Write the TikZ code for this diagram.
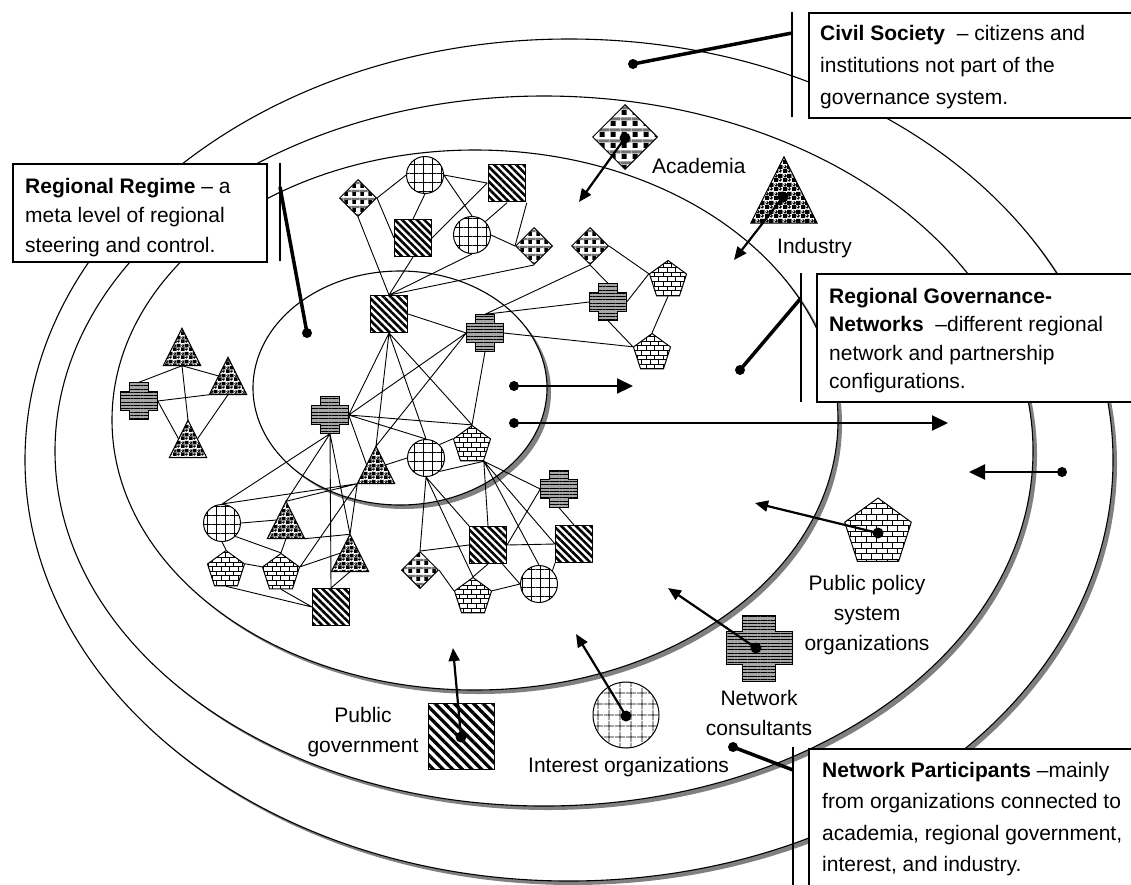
\documentclass[tikz,border=0pt]{standalone}
\usepackage{fontspec}
\setmainfont{Liberation Sans}
\usetikzlibrary{shapes.geometric,patterns,patterns.meta,arrows.meta,calc}

% brick fill: #1 name, #2 brick width, #3 brick height
\newcommand\defbricks[3]{%
  \pgfdeclarepatternformonly{#1}{\pgfpoint{-0.5pt}{-0.5pt}}{\pgfpoint{#2pt+0.5pt}{2*#3pt+0.5pt}}{\pgfpoint{#2pt}{2*#3pt}}{%
    \pgfsetlinewidth{0.7pt}%
    \pgfpathmoveto{\pgfpoint{0pt}{0pt}}\pgfpathlineto{\pgfpoint{#2pt}{0pt}}%
    \pgfpathmoveto{\pgfpoint{0pt}{#3pt}}\pgfpathlineto{\pgfpoint{#2pt}{#3pt}}%
    \pgfpathmoveto{\pgfpoint{0pt}{0pt}}\pgfpathlineto{\pgfpoint{0pt}{#3pt}}%
    \pgfpathmoveto{\pgfpoint{0.5*#2pt}{#3pt}}\pgfpathlineto{\pgfpoint{0.5*#2pt}{2*#3pt}}%
    \pgfusepath{stroke}}}
% plaid fill of the academia symbol
\newcommand\defplaid[2]{%
  \pgfdeclarepatterninherentlycolored{#1}{\pgfpointorigin}{\pgfpoint{#2pt}{#2pt}}{\pgfpoint{#2pt}{#2pt}}{%
    \pgfsetfillcolor{white}\pgfpathrectangle{\pgfpointorigin}{\pgfpoint{#2pt}{#2pt}}\pgfusepath{fill}%
    \pgfsetfillcolor{black!55}\pgfpathrectangle{\pgfpoint{0pt}{0.55*#2pt}}{\pgfpoint{#2pt}{0.3*#2pt}}\pgfusepath{fill}%
    \pgfsetfillcolor{black}\pgfpathrectangle{\pgfpoint{0.05*#2pt}{0.02*#2pt}}{\pgfpoint{0.5*#2pt}{0.5*#2pt}}\pgfusepath{fill}%
  }}
% checker with shiny balls, the industry symbol
\newcommand\defballs[2]{%
  \pgfdeclarepatterninherentlycolored{#1}{\pgfpointorigin}{\pgfpoint{#2pt}{#2pt}}{\pgfpoint{#2pt}{#2pt}}{%
    \pgfsetfillcolor{white}\pgfpathrectangle{\pgfpointorigin}{\pgfpoint{#2pt}{#2pt}}\pgfusepath{fill}%
    \pgfsetfillcolor{black}%
    \pgfpathrectangle{\pgfpointorigin}{\pgfpoint{0.5*#2pt}{0.5*#2pt}}\pgfusepath{fill}%
    \pgfpathrectangle{\pgfpoint{0.5*#2pt}{0.5*#2pt}}{\pgfpoint{0.5*#2pt}{0.5*#2pt}}\pgfusepath{fill}%
    \pgfpathellipse{\pgfpoint{0.75*#2pt}{0.25*#2pt}}{\pgfpoint{0.23*#2pt}{0pt}}{\pgfpoint{0pt}{0.23*#2pt}}\pgfusepath{fill}%
    \pgfpathellipse{\pgfpoint{0.25*#2pt}{0.75*#2pt}}{\pgfpoint{0.23*#2pt}{0pt}}{\pgfpoint{0pt}{0.23*#2pt}}\pgfusepath{fill}%
    \pgfsetfillcolor{white}%
    \pgfpathellipse{\pgfpoint{0.68*#2pt}{0.33*#2pt}}{\pgfpoint{0.08*#2pt}{0pt}}{\pgfpoint{0pt}{0.08*#2pt}}\pgfusepath{fill}%
    \pgfpathellipse{\pgfpoint{0.18*#2pt}{0.83*#2pt}}{\pgfpoint{0.08*#2pt}{0pt}}{\pgfpoint{0pt}{0.08*#2pt}}\pgfusepath{fill}%
  }}
\defbricks{brickS}{8.5}{4.6}
\defbricks{brickL}{10.5}{5.6}
\defplaid{plaidS}{8}
\defplaid{plaidL}{10.5}
\defballs{ballS}{7.5}
\defballs{ballL}{9}

\pgfdeclarelayer{rings}
\pgfdeclarelayer{links}
\pgfsetlayers{rings,links,main}

% plus-shaped symbol (network consultants): name, x, y, size
\newcommand\plusnode[4]{%
  \node[inner sep=0pt, minimum size=#4pt] (#1) at (#2,#3) {};
  \path[plusfill, shift={(#2,#3)}]
    ({-#4/4},{-#4/2}) -- ({#4/4},{-#4/2}) -- ({#4/4},{-#4/4}) -- ({#4/2},{-#4/4})
    -- ({#4/2},{#4/4}) -- ({#4/4},{#4/4}) -- ({#4/4},{#4/2}) -- ({-#4/4},{#4/2})
    -- ({-#4/4},{#4/4}) -- ({-#4/2},{#4/4}) -- ({-#4/2},{-#4/4}) -- ({-#4/4},{-#4/4}) -- cycle;
}
% triangle symbol (industry): name, x, y, size, fill pattern
\newcommand\trinode[5]{%
  \node[inner sep=0pt, minimum size=#4pt] (#1) at (#2,#3) {};
  \path[draw=black, line width=1pt, preaction={fill=white}, pattern=#5]
    (#1.north) -- (#1.south east) -- (#1.south west) -- cycle;
  \coordinate (#1-ls) at ($(#1.north)!0.5!(#1.south west)$);
  \coordinate (#1-rs) at ($(#1.north)!0.5!(#1.south east)$);
}

\begin{document}
\begin{tikzpicture}[x=1pt, y=-1pt,
  ring/.style={draw=black, fill=white, line width=1.1pt},
  ringshadow/.style={fill=black!50},
  link/.style={draw=black, line width=0.9pt},
  org/.style={draw=black, line width=1pt, inner sep=0pt, preaction={fill=white}},
  sqS/.style={org, rectangle, minimum size=37pt, pattern={Lines[angle=-45,distance=5.2pt,line width=2.6pt]}},
  sqL/.style={org, rectangle, minimum size=66pt, pattern={Lines[angle=-45,distance=6.8pt,line width=3.3pt]}},
  ciS/.style={org, circle, minimum size=37pt, pattern={Hatch[angle=0,distance=9pt,line width=0.7pt]}},
  ciL/.style={org, circle, minimum size=66pt, pattern={Hatch[angle=0,distance=10.5pt,line width=0.8pt]}},
  diS/.style={org, diamond, minimum size=37pt, pattern=plaidS},
  diL/.style={org, diamond, minimum size=65pt, pattern=plaidL},
  peS/.style={org, regular polygon, regular polygon sides=5, minimum size=39pt, pattern=brickS},
  peL/.style={org, regular polygon, regular polygon sides=5, minimum size=70pt, pattern=brickL},
  plusfill/.style={draw=black, line width=1pt, preaction={fill=black!35}, pattern={Lines[angle=0,distance=3.3pt,line width=0.9pt]}},
  blob/.style={circle, fill=black, inner sep=0pt, minimum size=10pt},
  pointer/.style={line width=2.2pt, -{Triangle[length=13pt,width=11pt]}},
  bigpointer/.style={line width=2.2pt, -{Triangle[length=16pt,width=15pt]}},
  leader/.style={line width=3.5pt},
  bar/.style={line width=2pt},
  calloutbox/.style={draw=black, fill=white, line width=2pt, inner sep=0pt, anchor=north west},
  txt/.style={inner sep=0pt, font=\fontsize{21}{30}\selectfont},
]
\useasboundingbox (0,0) rectangle (1131,884);

% nested rings with drop shadows
\begin{pgfonlayer}{rings}
  \foreach \cx/\cy/\rx/\ry in {569/460/544/421, 544/451/489/355, 475/420/363/270, 400/388/147/117} {
    \fill[ringshadow] (\cx+4,\cy+4) ellipse [x radius=\rx, y radius=\ry];
    \draw[ring] (\cx,\cy) ellipse [x radius=\rx, y radius=\ry];
  }
\end{pgfonlayer}

% network members
\node[sqS] (S1) at (507,183) {};
\node[sqS] (S2) at (413,238) {};
\node[sqS] (S3) at (389,314) {};
\node[sqS] (S4) at (331,607) {};
\node[sqS] (S5) at (488,545) {};
\node[sqS] (S6) at (574,544) {};
\node[ciS] (C1) at (425,175) {};
\node[ciS] (C2) at (472,235) {};
\node[ciS] (C3) at (426,458) {};
\node[ciS] (C4) at (222,523) {};
\node[ciS] (C5) at (539,584) {};
\node[diS] (D1) at (358,198) {};
\node[diS] (D2) at (534,246) {};
\node[diS] (D3) at (590,246) {};
\node[diS] (D4) at (420,570) {};
\node[peS] (P1) at (668,280) {};
\node[peS] (P2) at (652,353) {};
\node[peS] (P3) at (472,445) {};
\node[peS] (P4) at (226,570) {};
\node[peS] (P5) at (281,573) {};
\node[peS] (P6) at (473,597) {};
\plusnode{X1}{485}{333}{37}
\plusnode{X2}{608}{302}{37}
\plusnode{X3}{139}{401}{37}
\plusnode{X4}{330}{415}{37}
\plusnode{X5}{559}{489}{37}
\trinode{T1}{182}{347}{37}{ballS}
\trinode{T2}{228}{376}{37}{ballS}
\trinode{T3}{188}{439}{37}{ballS}
\trinode{T4}{376}{465}{37}{ballS}
\trinode{T5}{286}{520}{37}{ballS}
\trinode{T6}{350}{553}{37}{ballS}

% ties between members
\begin{pgfonlayer}{links}
\draw[link]
  (D1.east) -- (C1.west)  (D1.east) -- (S2.west)  (D1.south) -- (S3.north)
  (C1.south) -- (S2.north)  (C1.east) -- (S1.west)  (C1.east) -- (C2.north)
  (S2.east) -- (S1.west)  (S1.south) -- (C2.north east)  (S1.south east) -- (D2.west)
  (C2.east) -- (D2.west)  (S2.south) -- (S3.north)  (C2.south) -- (S3.north)
  (D2.south) -- (S3.north)  (S3.east) -- (X1.west)
  (X1.north) -- (D3.south)  (X1.north) -- (X2.west)  (X1.east) -- (P2.corner 2)
  (D3.south) -- (X2.north)  (D3.east) -- (P1.corner 2)  (X2.east) -- (P1.corner 2)
  (P1.south) -- (P2.corner 1)  (X2.south) -- (P2.corner 2)
  (S3.south) -- (X4.east)  (S3.south) -- (T4.north)  (S3.south) -- (C3.north)
  (S3.south) -- (P3.corner 1)
  (X1.west) -- (X4.east)  (X1.west) -- (T4.north)  (X1.south) -- (P3.corner 1)
  (X4.east) -- (P3.corner 1)  (X4.east) -- (C3.north)  (X4.east) -- (T4-ls)
  (T4-rs) -- (C3.west)  (C3.north east) -- (P3.corner 2)  (C3.south east) -- (P3.corner 4)
  (P3.corner 4) -- (S5.north)  (P3.corner 4) -- (X5.west)  (P3.corner 4) -- (S6.west)
  (P3.corner 4) -- (C5.north)
  (C3.south) -- (D4.north)  (C3.south) -- (P6.corner 1)  (C3.south) -- (C5.west)
  (D4.north) -- (S5.west)  (D4.east) -- (P6.corner 2)  (S5.south) -- (P6.corner 1)
  (P6.corner 5) -- (C5.west)  (S5.east) -- (X5.west)  (S5.east) -- (S6.west)
  (X5.south) -- (S6.north)  (S6.south west) -- (C5.north east)
  (C4.north) -- (X4.south)  (C4.north) -- (T4.south west)  (C4.east) -- (T5-ls)
  (C4.south) -- (P4.corner 1)  (C4.south east) -- (P5.corner 1)
  (T5.north) -- (X4.south)  (T5.north) -- (T4.south west)  (T5.south) -- (P5.corner 1)
  (T5.south east) -- (T6.north)  (P4.corner 5) -- (P5.corner 2)
  (P4.south) -- (S4.west)  (P5.south) -- (S4.west)
  (P5.corner 5) -- (T6-ls)  (P5.corner 5) -- (T4.south west)
  (S4.north) -- (X4.south)  (S4.north) -- (T6.south)
  (X4.south) -- (T6.north)  (T4.south west) -- (T6.north)
  (T1.south) -- (X3.north)  (T1.south) -- (T2-ls)  (T1.south) -- (T3.north)
  (X3.east) -- (T2.south west)  (X3.east) -- (T3-ls)  (T2.south) -- (T3-rs);
\end{pgfonlayer}

% legend symbols
\node[diL] (acadsym) at (625,137) {};
\trinode{indsym}{784}{190}{66}{ballL}
\node[peL] (polsym) at (878,533) {};
\plusnode{conssym}{759}{648}{66}
\node[ciL] (intsym) at (626,715) {};
\node[sqL] (govsym) at (461,736) {};

\node[txt, anchor=base west] (acadlbl) at (652,173) {Academia};
\node[txt, anchor=base west] (indlbl) at (777,253) {Industry};
\node[txt, anchor=base] (pollbl) at (867,590) {\parbox[t]{170pt}{\centering Public policy\\system\\organizations}};
\node[txt, anchor=base] (conslbl) at (759,705) {\parbox[t]{140pt}{\centering Network\\consultants}};
\node[txt, anchor=base] (govlbl) at (363,722) {\parbox[t]{140pt}{\centering Public\\government}};
\node[txt, anchor=base west] (intlbl) at (528,772) {Interest organizations};

% pointers from the symbols into the rings
\node[blob, minimum size=11pt] (acaddot) at (625,138) {};
\node[blob, minimum size=11pt] (inddot) at (783,197) {};
\node[blob, minimum size=11pt] (poldot) at (878,533) {};
\node[blob, minimum size=11pt] (consdot) at (756,648) {};
\node[blob, minimum size=11pt] (intdot) at (626,716) {};
\node[blob, minimum size=11pt] (govdot) at (461,737) {};
\coordinate (acadtip) at (579,202);
\coordinate (indtip) at (734,260);
\coordinate (poltip) at (755,503);
\coordinate (constip) at (668,588);
\coordinate (inttip) at (576,634);
\coordinate (govtip) at (453,648);
\draw[pointer] (acaddot.center) -- (acadtip);
\draw[pointer] (inddot.center) -- (indtip);
\draw[pointer] (poldot.center) -- (poltip);
\draw[pointer] (consdot.center) -- (constip);
\draw[pointer] (intdot.center) -- (inttip);
\draw[pointer] (govdot.center) -- (govtip);

% outward and inward movement arrows
\node[blob] (regdot) at (514,386) {};
\node[blob] (netdot) at (514,423) {};
\node[blob] (outdot) at (1062,472) {};
\coordinate (regtip) at (633,386);
\coordinate (nettip) at (948,423);
\coordinate (outtip) at (969,472);
\draw[bigpointer] (regdot.center) -- (regtip);
\draw[bigpointer] (netdot.center) -- (nettip);
\draw[bigpointer] (outdot.center) -- (outtip);

% callout: civil society
\node[calloutbox, minimum width=340pt, minimum height=105pt] (civbox) at (808,12) {};
\node[txt, anchor=base west] (civtext) at (820,40) {\parbox[t]{300pt}{\fontsize{21}{32}\selectfont\textbf{Civil Society}\ \ – citizens and\\institutions not part of the\\governance system.}};
\coordinate (civbartop) at (792,12);
\coordinate (civbarbot) at (792,117);
\coordinate (civhook) at (792,33);
\node[blob] (civdot) at (633,64) {};
\draw[bar] (civbartop) -- (civbarbot);
\draw[leader] (civdot.center) -- (civhook);

% callout: regional regime
\node[calloutbox, minimum width=254pt, minimum height=98pt] (regbox) at (12,163) {};
\node[txt, anchor=base west] (regtext) at (25,193) {\parbox[t]{240pt}{\fontsize{21}{29.5}\selectfont\textbf{Regional Regime} – a\\meta level of regional\\steering and control.}};
\coordinate (regbartop) at (280,163);
\coordinate (regbarbot) at (280,261);
\coordinate (reghook) at (280,187);
\node[blob] (regimedot) at (307,333) {};
\draw[bar] (regbartop) -- (regbarbot);
\draw[leader] (regimedot.center) -- (reghook);

% callout: regional governance networks
\node[calloutbox, minimum width=330pt, minimum height=128pt] (netbox) at (816,273) {};
\node[txt, anchor=base west] (nettext) at (829,303) {\parbox[t]{300pt}{\fontsize{21}{28.5}\selectfont\textbf{Regional Governance-}\\\textbf{Networks}\ \ –different regional\\network and partnership\\configurations.}};
\coordinate (netbartop) at (801,273);
\coordinate (netbarbot) at (801,402);
\coordinate (nethook) at (801,298);
\node[blob] (govnetdot) at (740,370) {};
\draw[bar] (netbartop) -- (netbarbot);
\draw[leader] (govnetdot.center) -- (nethook);

% callout: network participants
\node[calloutbox, minimum width=340pt, minimum height=150pt] (partbox) at (808,748) {};
\node[txt, anchor=base west] (parttext) at (822,777) {\parbox[t]{320pt}{\fontsize{21}{31.5}\selectfont\textbf{Network Participants} –mainly\\from organizations connected to\\academia, regional government,\\interest, and industry.}};
\coordinate (partbartop) at (793,747);
\coordinate (partbarbot) at (793,890);
\coordinate (parthook) at (793,770);
\node[blob] (partdot) at (733,747) {};
\draw[bar] (partbartop) -- (partbarbot);
\draw[leader] (partdot.center) -- (parthook);
\end{tikzpicture}
\end{document}
